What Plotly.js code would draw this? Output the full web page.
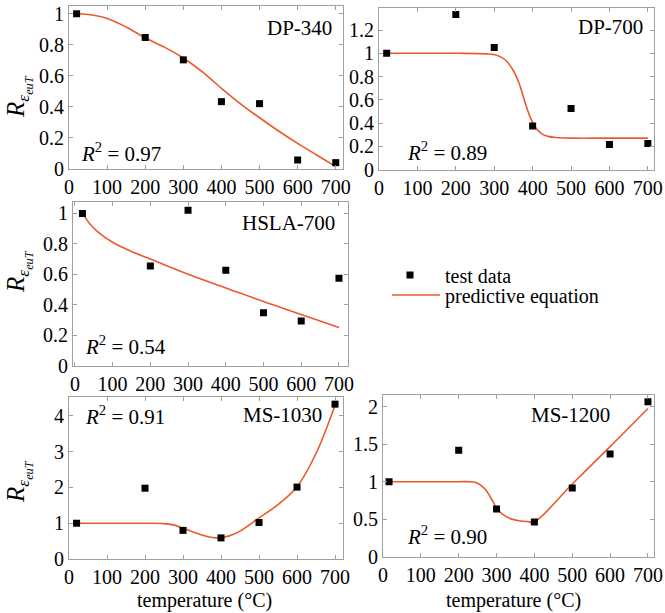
<!DOCTYPE html>
<html>
<head>
<meta charset="utf-8">
<script src="https://cdn.plot.ly/plotly-3.0.1.min.js"></script>
<style>
  html, body { margin: 0; padding: 0; background: #fff; }
  #chart { width: 665px; height: 613px; }
</style>
</head>
<body>
<div id="chart"></div>
<script>
// Measured ratio of uniform elongation at temperature T, per steel grade
const temps = [20, 200, 300, 400, 500, 600, 700];
const dp340 = [1.0, 0.847, 0.703, 0.434, 0.421, 0.058, 0.041];
const dp700 = [1.0, 1.334, 1.05, 0.375, 0.525, 0.215, 0.223];
const hsla700 = [1.0, 0.655, 1.02, 0.626, 0.347, 0.293, 0.574];
const ms1030 = [1.0, 1.98, 0.80, 0.59, 1.02, 2.01, 4.33];
const ms1200Temps = [16, 200, 300, 400, 500, 600, 700];
const ms1200 = [1.0, 1.42, 0.635, 0.46, 0.915, 1.37, 2.07];

// Predictive-equation curves, sampled along temperature
const dp340FitT = [20, 50, 100, 150, 200, 250, 300, 350, 400, 450, 500, 550, 600, 650, 700];
const dp340Fit = [1.0, 0.995, 0.97, 0.915, 0.845, 0.785, 0.715, 0.625, 0.52, 0.42, 0.33, 0.245, 0.165, 0.09, 0.015];
const dp700FitT = [20, 100, 200, 280, 310, 330, 350, 365, 380, 395, 410, 425, 440, 460, 500, 600, 700];
const dp700Fit = [1.0, 1.0, 1.0, 0.995, 0.98, 0.94, 0.85, 0.74, 0.58, 0.44, 0.35, 0.305, 0.285, 0.275, 0.27, 0.27, 0.27];
const hslaFitT = [20, 40, 60, 100, 150, 200, 300, 400, 500, 600, 700];
const hslaFit = [1.0, 0.93, 0.88, 0.81, 0.75, 0.70, 0.60, 0.51, 0.42, 0.335, 0.25];
const ms1030FitT = [20, 100, 200, 250, 280, 300, 330, 360, 390, 420, 450, 500, 550, 600, 650, 700];
const ms1030Fit = [1.0, 1.0, 1.0, 0.99, 0.94, 0.86, 0.74, 0.64, 0.59, 0.64, 0.78, 1.15, 1.52, 2.02, 2.95, 4.3];
const ms1200FitT = [16, 100, 200, 230, 250, 270, 290, 300, 320, 340, 360, 380, 400, 500, 600, 700];
const ms1200Fit = [1.0, 1.0, 1.0, 1.0, 0.98, 0.90, 0.74, 0.645, 0.55, 0.50, 0.478, 0.468, 0.465, 0.97, 1.47, 1.98];

const xTickVals = [0, 100, 200, 300, 400, 500, 600, 700];

const W = 665, H = 613;
const FONT = '"Times New Roman", "Liberation Serif", serif';
const FIT_COLOR = '#ea5a2a';
const AXIS_COLOR = '#a0a0a0';

// pixel -> paper helpers for layout placement
const px = v => v / W;
const py = v => 1 - v / H;

const panels = [
  { id: '', T: temps, R: dp340, fT: dp340FitT, fR: dp340Fit,
    dom: [69, 343, 6, 169], xr: [0, 719], yr: [0, 1.05], dy: 0.2 },
  { id: '2', T: temps, R: dp700, fT: dp700FitT, fR: dp700Fit,
    dom: [379, 654, 8, 169.5], xr: [0, 716], yr: [0, 1.39], dy: 0.2 },
  { id: '3', T: temps, R: hsla700, fT: hslaFitT, fR: hslaFit,
    dom: [73, 348, 202, 365.5], xr: [-5, 724], yr: [0, 1.075], dy: 0.2 },
  { id: '4', T: temps, R: ms1030, fT: ms1030FitT, fR: ms1030Fit,
    dom: [69, 343, 397, 559], xr: [0, 721], yr: [0, 4.53], dy: 1 },
  { id: '5', T: ms1200Temps, R: ms1200, fT: ms1200FitT, fR: ms1200Fit,
    dom: [383, 654, 395, 556.5], xr: [0, 716], yr: [0, 2.16], dy: 0.5 }
];

const traces = [];
const layout = {
  width: W, height: H,
  margin: { l: 0, r: 0, t: 0, b: 0 },
  paper_bgcolor: '#fff', plot_bgcolor: '#fff',
  font: { family: FONT, size: 19, color: '#000' },
  showlegend: true,
  legend: { x: px(375), y: py(275), xanchor: 'left', yanchor: 'middle',
            font: { family: FONT, size: 20, color: '#000' }, itemwidth: 60,
            bgcolor: 'rgba(0,0,0,0)' },
  legend2: { x: px(387), y: py(295), xanchor: 'left', yanchor: 'middle',
             font: { family: FONT, size: 20, color: '#000' }, itemwidth: 48,
             bgcolor: 'rgba(0,0,0,0)' },
  annotations: []
};

panels.forEach((p, i) => {
  const xa = 'x' + p.id, ya = 'y' + p.id;
  traces.push({
    x: p.fT, y: p.fR, xaxis: xa, yaxis: ya, type: 'scatter', mode: 'lines',
    line: { color: FIT_COLOR, width: 1.6, shape: 'spline', smoothing: 1 },
    name: 'predictive equation', legend: 'legend2', showlegend: i === 0,
    hoverinfo: 'skip'
  });
  traces.push({
    x: p.T, y: p.R, xaxis: xa, yaxis: ya, type: 'scatter', mode: 'markers',
    marker: { symbol: 'square', size: 7, color: '#000' },
    name: 'test data', legend: 'legend', showlegend: i === 0
  });
  const common = {
    showline: true, linecolor: AXIS_COLOR, linewidth: 1, mirror: 'ticks',
    ticks: 'inside', ticklen: 4, tickcolor: AXIS_COLOR, showgrid: false,
    zeroline: false, tickfont: { family: FONT, size: 20, color: '#000' }
  };
  layout['xaxis' + p.id] = Object.assign({}, common, {
    domain: [px(p.dom[0]), px(p.dom[1])], range: p.xr, anchor: ya,
    tickmode: 'array', tickvals: xTickVals
  });
  layout['yaxis' + p.id] = Object.assign({}, common, {
    domain: [py(p.dom[3]), py(p.dom[2])], range: p.yr, anchor: xa,
    tickmode: 'linear', tick0: 0, dtick: p.dy
  });
});

const labels = [
  ['DP-340', 299, 28], ['DP-700', 610, 27], ['HSLA-700', 288, 223],
  ['MS-1030', 282, 415], ['MS-1200', 570, 415]
];
labels.forEach(([t, x, y]) => layout.annotations.push({
  text: t, x: px(x), y: py(y), xref: 'paper', yref: 'paper',
  xanchor: 'center', yanchor: 'middle', showarrow: false,
  font: { family: FONT, size: 21, color: '#000' }
}));

const fits = [
  ['0.97', 121, 153], ['0.89', 447, 152], ['0.54', 125, 345],
  ['0.91', 125, 415], ['0.90', 447, 535]
];
fits.forEach(([v, x, y]) => layout.annotations.push({
  text: '<i>R</i><sup>2</sup> = ' + v, x: px(x), y: py(y),
  xref: 'paper', yref: 'paper', xanchor: 'center', yanchor: 'middle',
  showarrow: false, font: { family: FONT, size: 21, color: '#000' }
}));

// y-axis titles
[97, 272, 482].forEach(y => layout.annotations.push({
  text: '<i>R</i><sub><i>ε<sub>euT</sub></i></sub>',
  x: px(19), y: py(y), xref: 'paper', yref: 'paper',
  xanchor: 'center', yanchor: 'middle', textangle: -90, showarrow: false,
  font: { family: FONT, size: 25, color: '#000' }
}));

// x-axis titles
[204, 513].forEach(x => layout.annotations.push({
  text: 'temperature (°C)', x: px(x), y: py(600), xref: 'paper', yref: 'paper',
  xanchor: 'center', yanchor: 'middle', showarrow: false,
  font: { family: FONT, size: 20, color: '#000' }
}));

Plotly.newPlot('chart', traces, layout, { staticPlot: true, displayModeBar: false });
</script>
</body>
</html>
